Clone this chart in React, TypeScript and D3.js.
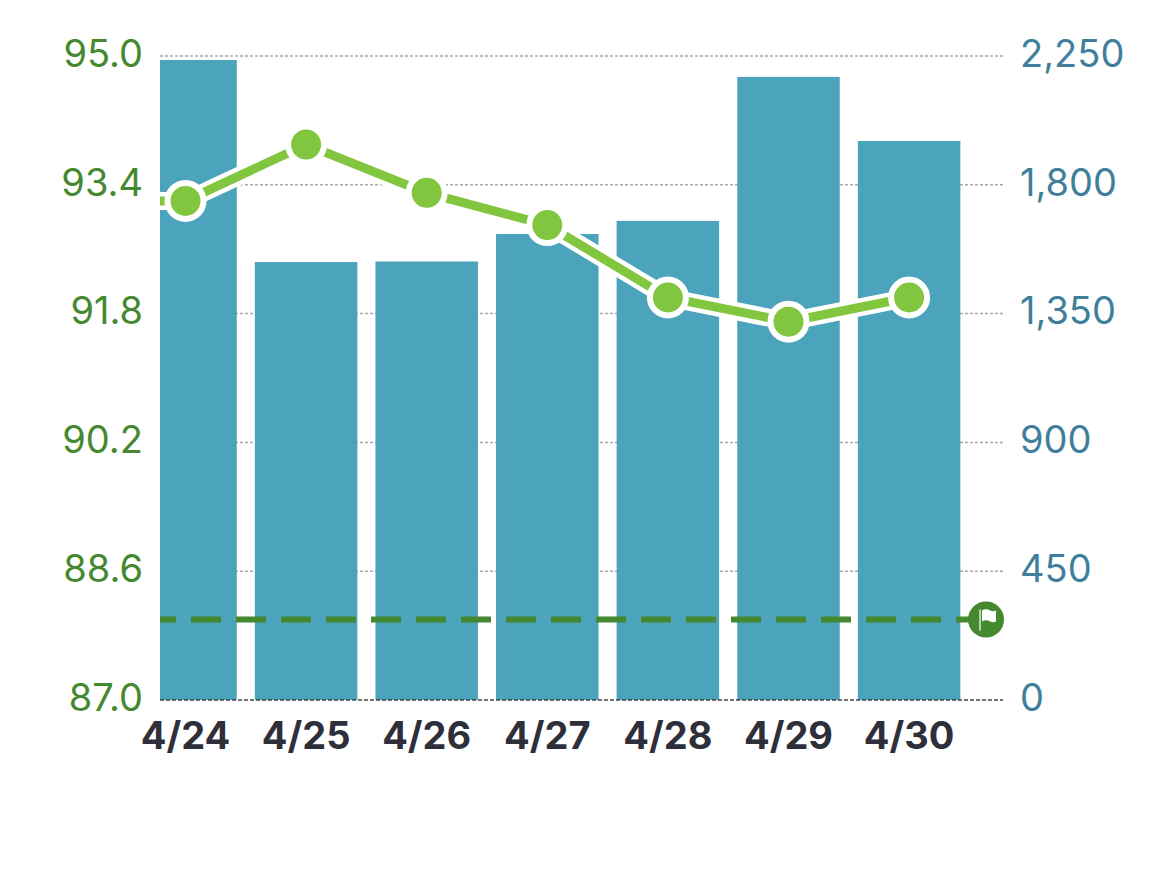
import React, { useEffect, useRef } from "react";
import * as d3 from "d3";

const days = ["4/24", "4/25", "4/26", "4/27", "4/28", "4/29", "4/30"];
const barValues = [2236, 1530, 1532, 1628, 1674, 2177, 1953];
const lineValues = [93.2, 93.9, 93.3, 92.9, 92.0, 91.7, 92.0];
// the line runs in from the day before the window, cut off by the clip
const previousLineValue = 93.2;
const targetValue = 88.0;
const leftTicks = [87, 88.6, 90.2, 91.8, 93.4, 95];
const rightTicks = [0, 450, 900, 1350, 1800, 2250];

const width = 1170;
const height = 895;
const plotLeft = 160;
const plotRight = 1003;
const plotTop = 56;
const plotBottom = 700;

const fontFamily = "Inter, 'Noto Sans', sans-serif";
const green = "#44882f";
const lineGreen = "#82c63f";
const blue = "#4ba3bc";
const blueText = "#3f7f9b";
const dark = "#2e2f3a";

const x = d3.scaleBand<string>().domain(days).range([125.2, 969.4]).paddingInner(0.15).paddingOuter(0.075);
const yLeft = d3.scaleLinear().domain([87, 95]).range([plotBottom, plotTop]);
const yRight = d3.scaleLinear().domain([0, 2250]).range([plotBottom, plotTop]);
const center = (i: number) => x(days[0])! + x.bandwidth() / 2 + i * x.step();

const linePoints: [number, number][] = [previousLineValue, ...lineValues].map((v, i) => [center(i - 1), yLeft(v)]);
const linePath = d3.line()(linePoints) as string;

export default function App() {
  const gLeft = useRef<SVGGElement>(null);
  const gRight = useRef<SVGGElement>(null);
  const gBottom = useRef<SVGGElement>(null);

  useEffect(() => {
    const style = (g: any, color: string, weight: number) => {
      g.select(".domain").remove();
      g.selectAll("text")
        .attr("fill", color)
        .attr("font-family", fontFamily)
        .attr("font-size", 38)
        .attr("font-weight", weight);
    };
    d3.select(gLeft.current!)
      .call(d3.axisLeft(yLeft).tickValues(leftTicks).tickSize(0).tickPadding(17).tickFormat(d3.format(".1f") as any))
      .call((g) => style(g, green, 400))
      .selectAll("text")
      .attr("dy", "0.27em");
    d3.select(gRight.current!)
      .call(d3.axisRight(yRight).tickValues(rightTicks).tickSize(0).tickPadding(17).tickFormat(d3.format(",") as any))
      .call((g) => style(g, blueText, 400))
      .selectAll("text")
      .attr("dy", "0.27em");
    d3.select(gBottom.current!)
      .call(d3.axisBottom(x).tickSize(0).tickPadding(22))
      .call((g) => style(g, dark, 700))
      .selectAll("text")
      .attr("dy", "0.71em");
  }, []);

  return (
    <svg width={width} height={height} style={{ position: "absolute", left: 0, top: 0, background: "#fff" }}>
      <defs>
        <clipPath id="plot">
          <rect x={plotLeft} y={0} width={plotRight - plotLeft} height={plotBottom} />
        </clipPath>
      </defs>

      {leftTicks.slice(1).map((t) => (
        <line key={t} x1={plotLeft} x2={plotRight} y1={yLeft(t)} y2={yLeft(t)} stroke="#a9a9a9" strokeWidth={1.5} strokeDasharray="3 2" />
      ))}

      <g clipPath="url(#plot)">
        {days.map((d, i) => (
          <rect key={d} x={x(d)} y={yRight(barValues[i])} width={x.bandwidth()} height={plotBottom - yRight(barValues[i])} fill={blue} />
        ))}
      </g>
      <line x1={plotLeft} x2={plotRight} y1={plotBottom} y2={plotBottom} stroke="#444" strokeWidth={1.5} strokeDasharray="4 2" />

      <line
        x1={plotLeft}
        x2={plotRight - 17}
        y1={yLeft(targetValue)}
        y2={yLeft(targetValue)}
        stroke={green}
        strokeWidth={6}
        strokeDasharray="30 15"
        strokeDashoffset={14}
      />
      <g transform={`translate(986,${yLeft(targetValue)})`}>
        <circle r={18} fill={green} />
        <line x1={-6} x2={-6} y1={-10} y2={11} stroke="#dcebd5" strokeWidth={1.5} />
        <path d="M-4,-9 C-1,-11 2,-10 4,-9 C6,-8 8,-8 10,-9 L10,2 C8,3 6,3 4,2 C2,1 -1,0 -4,2 Z" fill="#fff" />
      </g>

      <g clipPath="url(#plot)">
        <path d={linePath} fill="none" stroke="#fff" strokeWidth={18} />
        <path d={linePath} fill="none" stroke={lineGreen} strokeWidth={9} />
      </g>
      {lineValues.map((v, i) => (
        <circle key={days[i]} cx={center(i)} cy={yLeft(v)} r={18} fill={lineGreen} stroke="#fff" strokeWidth={6} />
      ))}

      <g ref={gLeft} transform={`translate(${plotLeft},0)`} />
      <g ref={gRight} transform={`translate(${plotRight},0)`} />
      <g ref={gBottom} transform={`translate(0,${plotBottom})`} />
    </svg>
  );
}
